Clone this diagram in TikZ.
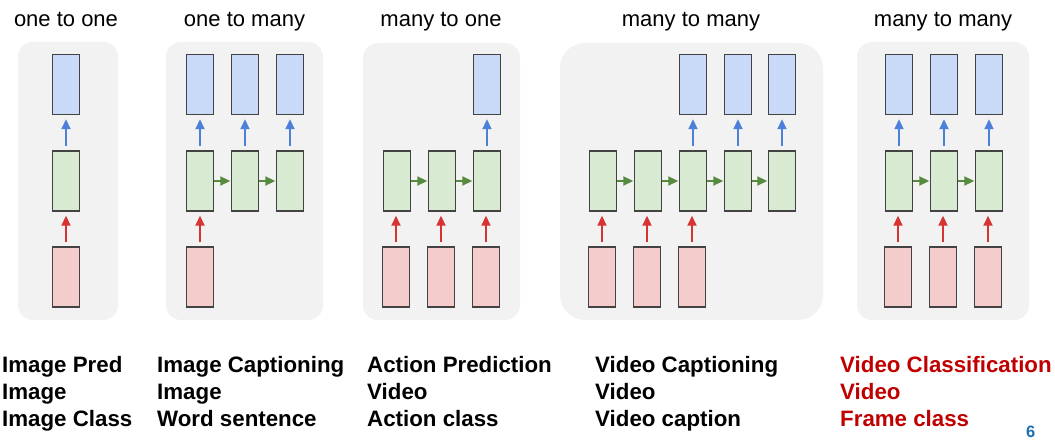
\documentclass[tikz,border=0pt]{standalone}
\usepackage{fontspec}
\setmainfont{Liberation Sans}
\usetikzlibrary{arrows.meta}
\definecolor{panelbg}{HTML}{F2F2F2}
\definecolor{boxline}{HTML}{434343}
\definecolor{blueF}{HTML}{C9DAF8}
\definecolor{greenF}{HTML}{D9EAD3}
\definecolor{redF}{HTML}{F4CCCC}
\definecolor{arrB}{HTML}{1155CC}
\definecolor{arrG}{HTML}{38761D}
\definecolor{arrR}{HTML}{CC0000}
\definecolor{redtxt}{HTML}{C00000}
\definecolor{pagenum}{HTML}{1F70B0}
\tikzset{
  panel/.style={fill=panelbg, draw=none, rounded corners=15pt},
  cell/.style={draw=boxline, line width=1.4pt, minimum width=27pt, minimum height=60pt, inner sep=0pt},
  outb/.style={cell, fill=blueF},
  hidb/.style={cell, fill=greenF},
  inb/.style={cell, fill=redF},
  upblue/.style={-{Triangle[length=10pt,width=9pt]}, line width=1.8pt, draw=arrB!75, shorten <=4.5pt, shorten >=4pt},
  upred/.style={-{Triangle[length=10pt,width=9pt]}, line width=1.8pt, draw=arrR!80, shorten <=4pt, shorten >=4pt},
  rightgreen/.style={-{Triangle[length=10pt,width=9pt]}, line width=1.8pt, draw=arrG!85, shorten >=0.5pt},
  title/.style={font=\fontsize{22pt}{26pt}\selectfont, anchor=base, inner sep=0pt},
  caption/.style={font=\fontsize{22.3pt}{27pt}\selectfont\bfseries, anchor=base west, inner sep=0pt},
}
\begin{document}
\begin{tikzpicture}[x=1pt,y=-1pt]
\useasboundingbox[fill=white] (0,0) rectangle (1055,446);

% panels
\fill[panel] (18,42) rectangle (118,320) coordinate (p1);
\fill[panel] (166,42) rectangle (323,320) coordinate (p2);
\fill[panel] (363,43) rectangle (520,320) coordinate (p3);
\fill[panel, rounded corners=25pt] (560,43) rectangle (823,320) coordinate (p4);
\fill[panel] (857,42) rectangle (1029,320) coordinate (p5);

% titles
\node[title] (t1) at (66,27) {one to one};
\node[title] (t2) at (244.5,27) {one to many};
\node[title] (t3) at (441,27) {many to one};
\node[title] (t4) at (691,27) {many to many};
\node[title] (t5) at (943,27) {many to many};

% ---- panel 1: one to one
\node[outb] (a-o1) at (66,84.5) {};
\node[hidb] (a-h1) at (66,181) {};
\node[inb]  (a-i1) at (66,277) {};
\draw[upred] (a-i1.north) -- (a-h1.south);
\draw[upblue] (a-h1.north) -- (a-o1.south);

% ---- panel 2: one to many
\node[outb] (b-o1) at (200,84.5) {};
\node[outb] (b-o2) at (245,84.5) {};
\node[outb] (b-o3) at (290,84.5) {};
\node[hidb] (b-h1) at (200,181) {};
\node[hidb] (b-h2) at (245,181) {};
\node[hidb] (b-h3) at (290,181) {};
\node[inb]  (b-i1) at (200,277) {};
\draw[upred] (b-i1.north) -- (b-h1.south);
\draw[upblue] (b-h1.north) -- (b-o1.south);
\draw[upblue] (b-h2.north) -- (b-o2.south);
\draw[upblue] (b-h3.north) -- (b-o3.south);
\draw[rightgreen] (b-h1.east) -- (b-h2.west);
\draw[rightgreen] (b-h2.east) -- (b-h3.west);

% ---- panel 3: many to one
\node[outb] (c-o3) at (487,84.5) {};
\node[hidb] (c-h1) at (397,181) {};
\node[hidb] (c-h2) at (442,181) {};
\node[hidb] (c-h3) at (487,181) {};
\node[inb]  (c-i1) at (396,277) {};
\node[inb]  (c-i2) at (441,277) {};
\node[inb]  (c-i3) at (486,277) {};
\draw[upred] (c-i1.north) -- (c-i1.north |- c-h1.south);
\draw[upred] (c-i2.north) -- (c-i2.north |- c-h2.south);
\draw[upred] (c-i3.north) -- (c-i3.north |- c-h3.south);
\draw[upblue] (c-h3.north) -- (c-o3.south);
\draw[rightgreen] (c-h1.east) -- (c-h2.west);
\draw[rightgreen] (c-h2.east) -- (c-h3.west);

% ---- panel 4: many to many (delayed)
\node[outb] (d-o3) at (693,84.5) {};
\node[outb] (d-o4) at (738,84.5) {};
\node[outb] (d-o5) at (782,84.5) {};
\node[hidb] (d-h1) at (603,181) {};
\node[hidb] (d-h2) at (648,181) {};
\node[hidb] (d-h3) at (693,181) {};
\node[hidb] (d-h4) at (738,181) {};
\node[hidb] (d-h5) at (782,181) {};
\node[inb]  (d-i1) at (602,277) {};
\node[inb]  (d-i2) at (647,277) {};
\node[inb]  (d-i3) at (692,277) {};
\draw[upred] (d-i1.north) -- (d-i1.north |- d-h1.south);
\draw[upred] (d-i2.north) -- (d-i2.north |- d-h2.south);
\draw[upred] (d-i3.north) -- (d-i3.north |- d-h3.south);
\draw[upblue] (d-h3.north) -- (d-o3.south);
\draw[upblue] (d-h4.north) -- (d-o4.south);
\draw[upblue] (d-h5.north) -- (d-o5.south);
\draw[rightgreen] (d-h1.east) -- (d-h2.west);
\draw[rightgreen] (d-h2.east) -- (d-h3.west);
\draw[rightgreen] (d-h3.east) -- (d-h4.west);
\draw[rightgreen] (d-h4.east) -- (d-h5.west);

% ---- panel 5: many to many (synced)
\node[outb] (e-o1) at (899,84.5) {};
\node[outb] (e-o2) at (944,84.5) {};
\node[outb] (e-o3) at (989,84.5) {};
\node[hidb] (e-h1) at (899,181) {};
\node[hidb] (e-h2) at (944,181) {};
\node[hidb] (e-h3) at (989,181) {};
\node[inb]  (e-i1) at (898,277) {};
\node[inb]  (e-i2) at (943,277) {};
\node[inb]  (e-i3) at (988,277) {};
\draw[upred] (e-i1.north) -- (e-i1.north |- e-h1.south);
\draw[upred] (e-i2.north) -- (e-i2.north |- e-h2.south);
\draw[upred] (e-i3.north) -- (e-i3.north |- e-h3.south);
\draw[upblue] (e-h1.north) -- (e-o1.south);
\draw[upblue] (e-h2.north) -- (e-o2.south);
\draw[upblue] (e-h3.north) -- (e-o3.south);
\draw[rightgreen] (e-h1.east) -- (e-h2.west);
\draw[rightgreen] (e-h2.east) -- (e-h3.west);

% ---- captions
\node[caption] (k1a) at (2,372) {Image Pred};
\node[caption] (k1b) at (2,399) {Image};
\node[caption] (k1c) at (2,426) {Image Class};
\node[caption] (k2a) at (157,372) {Image Captioning};
\node[caption] (k2b) at (157,399) {Image};
\node[caption] (k2c) at (157,426) {Word sentence};
\node[caption] (k3a) at (367,372) {Action Prediction};
\node[caption] (k3b) at (367,399) {Video};
\node[caption] (k3c) at (367,426) {Action class};
\node[caption] (k4a) at (595,372) {Video Captioning};
\node[caption] (k4b) at (595,399) {Video};
\node[caption] (k4c) at (595,426) {Video caption};
\node[caption, text=redtxt] (k5a) at (840,372) {Video Classification};
\node[caption, text=redtxt] (k5b) at (840,399) {Video};
\node[caption, text=redtxt] (k5c) at (840,426) {Frame class};
\node[font=\fontsize{16.5pt}{18pt}\selectfont\bfseries, text=pagenum, anchor=base west, inner sep=0pt] (pg) at (1026,437) {6};
\end{tikzpicture}
\end{document}
